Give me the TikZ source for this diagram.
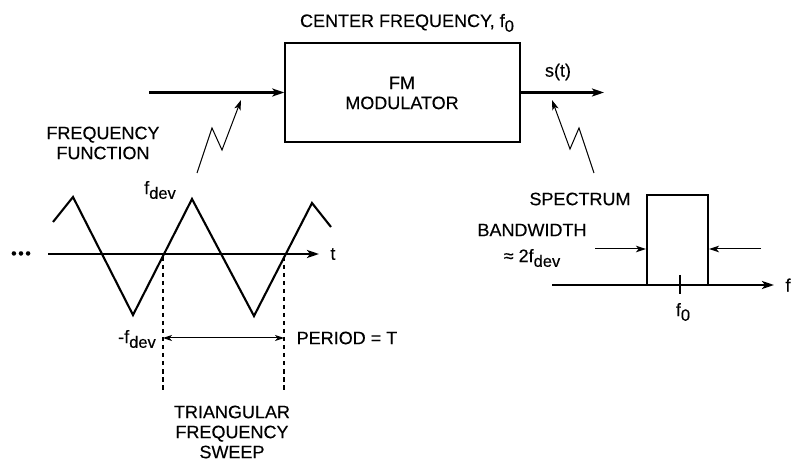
\documentclass[tikz,border=0pt]{standalone}
\usepackage{fontspec}
\setmainfont[FakeBold=0.3]{Liberation Sans}
\usetikzlibrary{arrows.meta}
\newcommand{\lowsub}[1]{\raisebox{-0.5ex}{\fontsize{16.5}{16.5}\selectfont #1}}
\begin{document}
\begin{tikzpicture}[x=1pt,y=-1pt,
  txt/.style={inner sep=0pt, align=center, font=\fontsize{18}{20}\selectfont},
  thickarrow/.style={line width=2.4pt, -{Stealth[length=12pt,width=8pt,inset=3pt]}},
  thinarrow/.style={line width=1pt, -{Stealth[length=10pt,width=6.5pt,inset=2.5pt]}},
  wave/.style={line width=2.1pt, line join=miter},
  dashline/.style={line width=1.1pt, dash pattern=on 4.5pt off 3.5pt},
  modbox/.style={draw, line width=1.4pt, minimum width=235pt, minimum height=99pt, inner sep=0pt}
]
\useasboundingbox (0,0) rectangle (796,465);

% modulator block
\node[modbox] (mod) at (402.5,92.5) {};
\node[txt] (modtxt) at (402,93) {FM\\MODULATOR};
\node[txt, anchor=base] (cf) at (407,27) {CENTER FREQUENCY, f\lowsub{0}};
\coordinate (in) at (149,92.5);
\coordinate (out) at (604,92.5);
\draw[thickarrow] (in) -- (mod.west);
\draw[thickarrow] (mod.east) -- (out);
\node[txt] (st) at (558,72) {s(t)};

% lightning arrows
\coordinate (la0) at (197,173);
\coordinate (la1) at (212,128);
\coordinate (la2) at (222,150);
\coordinate (la3) at (241,100);
\draw[thinarrow] (la0) -- (la1) -- (la2) -- (la3);
\coordinate (ra0) at (594,173);
\coordinate (ra1) at (579,128);
\coordinate (ra2) at (570,149);
\coordinate (ra3) at (552,100);
\draw[thinarrow] (ra0) -- (ra1) -- (ra2) -- (ra3);

% frequency function
\node[txt] (ff) at (103,143) {FREQUENCY\\FUNCTION};
\node[txt] (fdev) at (160,190) {f\lowsub{dev}};
\coordinate (taxL) at (48,254);
\coordinate (taxR) at (319,254);
\draw[thickarrow] (taxL) -- (taxR);
\node[txt] (t) at (333,254) {t};
\node[inner sep=0pt, font=\fontsize{16}{16}\selectfont] (dots) at (21,255) {•\kern1.5pt•\kern1.5pt•};
\draw[wave] (53,222) -- (73,197) -- (133,315) -- (192,199) -- (254,316) -- (312,203) -- (331,227);

% period
\coordinate (d1t) at (163,257);
\coordinate (d1b) at (163,393);
\coordinate (d2t) at (284,257);
\coordinate (d2b) at (284,393);
\draw[dashline] (d1t) -- (d1b);
\draw[dashline] (d2t) -- (d2b);
\coordinate (p1) at (163,338);
\coordinate (p2) at (284,338);
\draw[line width=1pt, {Stealth[length=9pt,width=6pt,inset=2.5pt]}-{Stealth[length=9pt,width=6pt,inset=2.5pt]}] (p1) -- (p2);
\node[txt] (mfdev) at (137,339) {-f\lowsub{dev}};
\node[txt] (period) at (347,338) {PERIOD = T};
\node[txt] (tfs) at (232,432) {TRIANGULAR\\FREQUENCY\\SWEEP};

% spectrum
\coordinate (faxL) at (552,285);
\coordinate (faxR) at (774,285);
\draw[thickarrow] (faxL) -- (faxR);
\node[txt] (f) at (788,285) {f};
\draw[line width=1.4pt] (647,285) |- (708,195) -- (708,285);
\draw[line width=2.4pt] (680,275) -- (680,294);
\node[txt] (f0) at (683,312) {f\lowsub{0}};
\node[txt] (spec) at (580,199) {SPECTRUM};
\node[txt] (bw) at (532,230) {BANDWIDTH};
\node[txt] (bw2) at (532,258) {≈ 2f\lowsub{dev}};
\coordinate (bl0) at (595,249);
\coordinate (bl1) at (646,249);
\coordinate (br0) at (761,249);
\coordinate (br1) at (709,249);
\draw[thinarrow] (bl0) -- (bl1);
\draw[thinarrow] (br0) -- (br1);
\end{tikzpicture}
\end{document}
